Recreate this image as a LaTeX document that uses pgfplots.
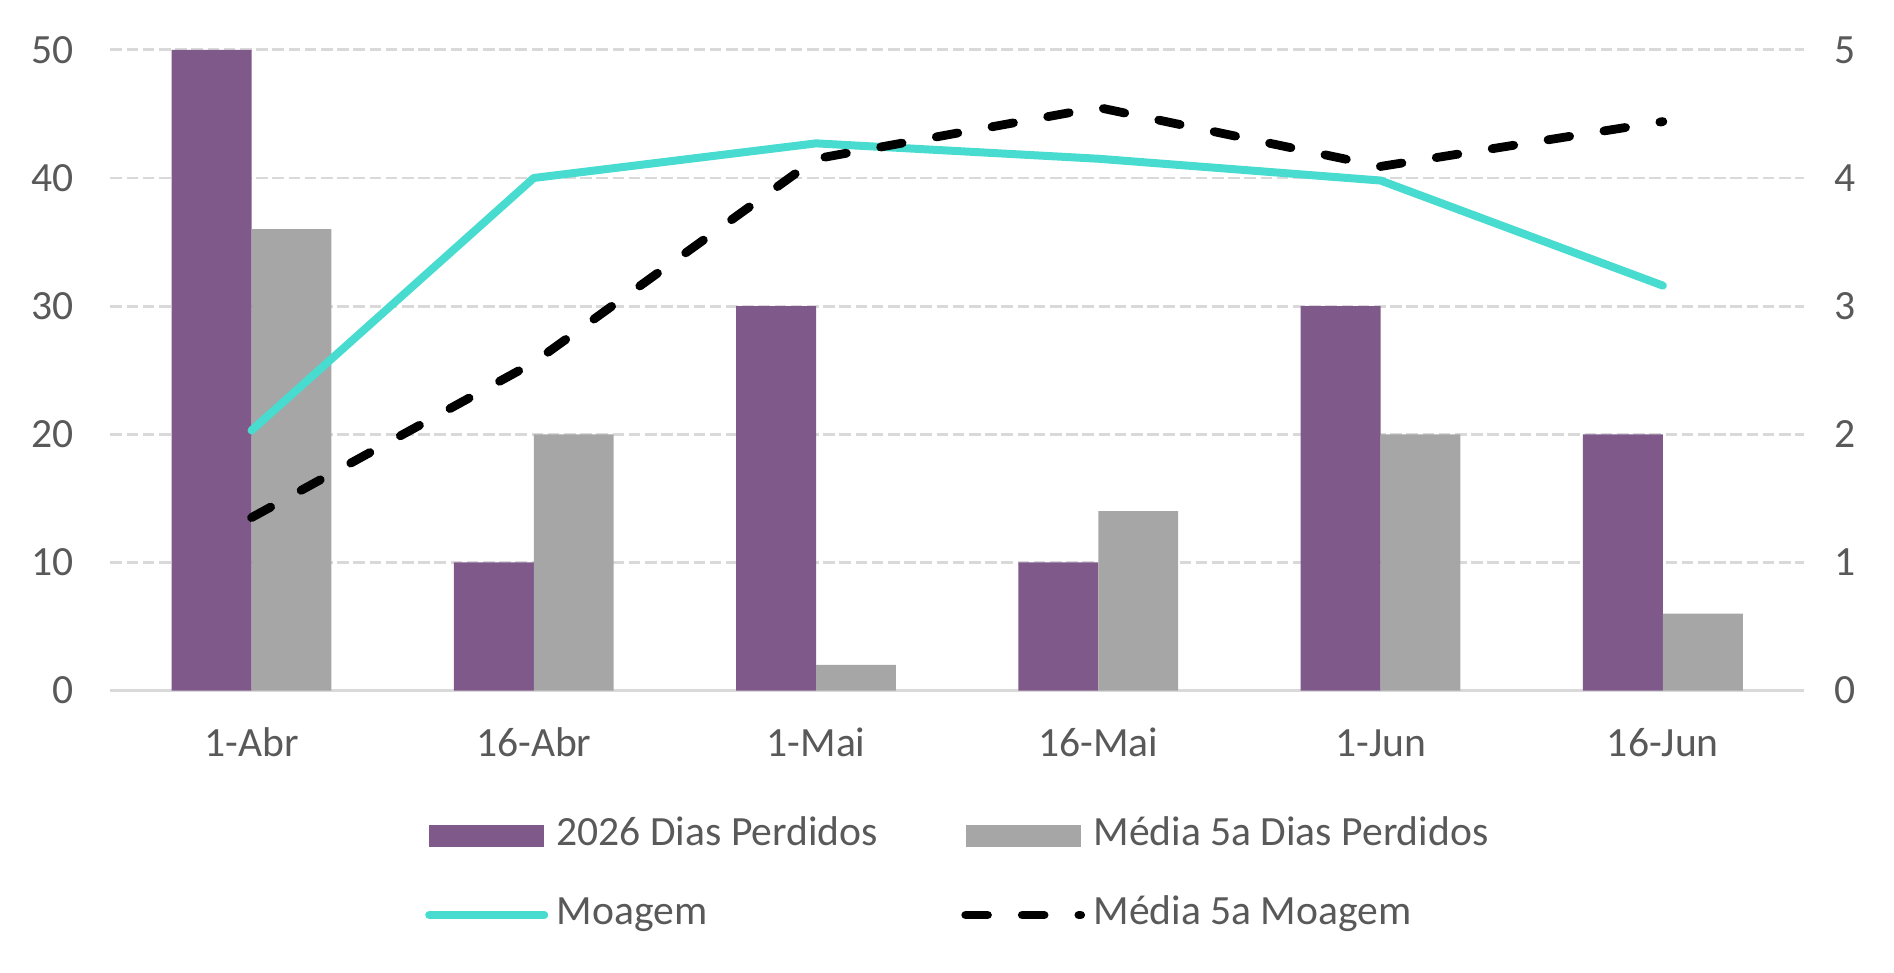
\documentclass[border=0pt]{standalone}
\usepackage{fontspec}
\setmainfont{Carlito}
\usepackage{pgfplots}
\pgfplotsset{compat=1.18}
\definecolor{barpurple}{RGB}{128,89,139}
\definecolor{bargray}{RGB}{166,166,166}
\definecolor{tealc}{RGB}{72,219,207}
\definecolor{gridc}{RGB}{217,217,217}
\definecolor{txt}{RGB}{89,89,89}
\begin{document}
\begin{tikzpicture}
\path[use as bounding box] (0,0) rectangle (473.5pt,243.25pt);
\pgfplotsset{
 base/.style={
   at={(27.6pt,70.6pt)}, anchor=south west,
   scale only axis, width=423.4pt, height=160.2pt,
   xmin=-0.5, xmax=5.5,
   major tick length=0pt,
   tick label style={font=\fontsize{10.4}{12.5}\selectfont, text=txt},
   /pgf/number format/assume math mode=true,
 }
}
\begin{axis}[base,
  ymin=0, ymax=50, ytick={0,10,...,50},
  xtick={0,...,5}, xticklabels={1-Abr,16-Abr,1-Mai,16-Mai,1-Jun,16-Jun},
  axis x line*=bottom, axis y line*=left,
  x axis line style={draw=gridc, line width=0.7pt, -},
  y axis line style={draw=none},
  ymajorgrids, grid style={draw=gridc, line width=0.7pt, dash pattern=on 2.9pt off 1.15pt},
  xticklabel style={anchor=base, yshift=-16.4pt},
  yticklabel style={anchor=east, xshift=-5.6pt},
]
\addplot[ybar, bar width=0.283, bar shift=-0.1415, fill=barpurple, draw=none] coordinates {(0,50) (1,10) (2,30) (3,10) (4,30) (5,20)};
\addplot[ybar, bar width=0.283, bar shift=0.1415, fill=bargray, draw=none] coordinates {(0,36) (1,20) (2,2) (3,14) (4,20) (5,6)};
\end{axis}
\begin{axis}[base,
  ymin=0, ymax=5, ytick={0,...,5},
  hide x axis, axis y line*=right, y axis line style={draw=none},
  yticklabel style={anchor=west, xshift=4.2pt},
  legend columns=2,
  legend style={draw=none, fill=none, at={(0.1859,-0.1998)}, anchor=north west,
    inner sep=0pt, outer sep=0pt, row sep=11.2pt, column sep=2.1pt,
    /tikz/every even column/.append style={column sep=20.85pt},
    font=\fontsize{10.4}{12.5}\selectfont, text=txt, cells={anchor=west},
    nodes={inner sep=0pt, text height=6.6pt, text depth=2pt}},
]
\addlegendimage{fill=barpurple, draw=none, legend image code/.code={\fill (0pt,-2.7pt) rectangle (28.75pt,2.7pt);}}
\addlegendentry{2026 Dias Perdidos}
\addlegendimage{fill=bargray, draw=none, legend image code/.code={\fill (0pt,-2.7pt) rectangle (28.75pt,2.7pt);}}
\addlegendentry{Média 5a Dias Perdidos}
\addplot[tealc, line width=2pt, line cap=round, line join=round,
  legend image code/.code={\draw (0pt,0pt) -- (28.75pt,0pt);}]
  coordinates {(0,2.03) (1,4.00) (2,4.27) (3,4.15) (4,3.98) (5,3.16)};
\addlegendentry{Moagem}
\addplot[black, line width=2.2pt, line cap=round, line join=round, dash pattern=on 5.45pt off 8.7pt,
  legend image code/.code={\draw (0pt,0pt) -- (28.75pt,0pt);}]
  coordinates {(0,1.35) (1,2.56) (2,4.15) (3,4.55) (4,4.09) (5,4.44)};
\addlegendentry{Média 5a Moagem}
\end{axis}
\end{tikzpicture}
\end{document}
